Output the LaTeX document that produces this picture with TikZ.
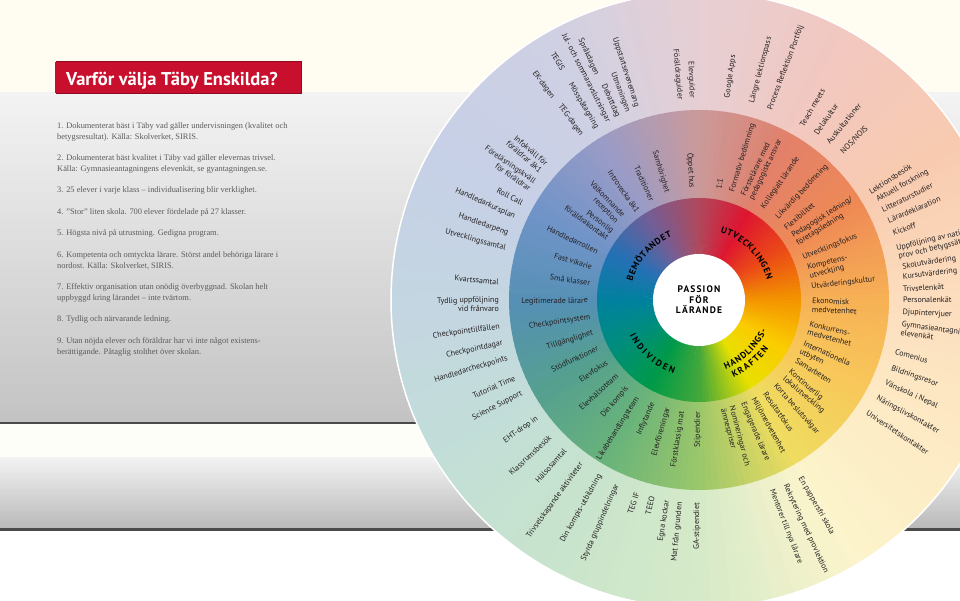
\documentclass[tikz,border=0pt]{standalone}
\usepackage{fontspec}
\setmainfont{Liberation Serif}
\newfontfamily\wheelfont{PT Sans}
\usepackage{tikz}
\usetikzlibrary{decorations.text}

\definecolor{cream}{HTML}{FFFDF2}
\definecolor{bandwhite}{HTML}{FEFEF9}
\definecolor{panel-top}{HTML}{F3F3F3}
\definecolor{panel-bot}{HTML}{C3C3C3}
\definecolor{panel-line}{HTML}{4A4A4A}
\definecolor{teb-red}{HTML}{C8102E}
\definecolor{list-gray}{HTML}{5B5B5B}
\definecolor{wheel-text}{HTML}{231F20}

% inner ring, -180 ... 180 in steps of 30
\definecolor{cin0}{HTML}{00819E}
\definecolor{cin1}{HTML}{008E7A}
\definecolor{cin2}{HTML}{009A48}
\definecolor{cin3}{HTML}{44A83A}
\definecolor{cin4}{HTML}{E8E000}
\definecolor{cin5}{HTML}{FBCC00}
\definecolor{cin6}{HTML}{F39200}
\definecolor{cin7}{HTML}{EB4A17}
\definecolor{cin8}{HTML}{DE1530}
\definecolor{cin9}{HTML}{AE4A5E}
\definecolor{cin10}{HTML}{735E96}
\definecolor{cin11}{HTML}{2670B5}
\definecolor{cin12}{HTML}{00819E}
% middle ring
\definecolor{cmid0}{HTML}{5590B5}
\definecolor{cmid1}{HTML}{55A08E}
\definecolor{cmid2}{HTML}{6AB47A}
\definecolor{cmid3}{HTML}{9CC76A}
\definecolor{cmid4}{HTML}{EFDC60}
\definecolor{cmid5}{HTML}{F8C85A}
\definecolor{cmid6}{HTML}{F6B055}
\definecolor{cmid7}{HTML}{EF8A55}
\definecolor{cmid8}{HTML}{E2806A}
\definecolor{cmid9}{HTML}{C99A9C}
\definecolor{cmid10}{HTML}{9A9BC6}
\definecolor{cmid11}{HTML}{7194C8}
\definecolor{cmid12}{HTML}{5590B5}
% outer ring
\definecolor{cout0}{HTML}{C4D6E2}
\definecolor{cout1}{HTML}{C2DED8}
\definecolor{cout2}{HTML}{C8E4CC}
\definecolor{cout3}{HTML}{D6EAC8}
\definecolor{cout4}{HTML}{FCF4CC}
\definecolor{cout5}{HTML}{FDEAC4}
\definecolor{cout6}{HTML}{FCDDBE}
\definecolor{cout7}{HTML}{F8CBB0}
\definecolor{cout8}{HTML}{F2C8C0}
\definecolor{cout9}{HTML}{E6CFD4}
\definecolor{cout10}{HTML}{CED0E4}
\definecolor{cout11}{HTML}{C6D0E6}
\definecolor{cout12}{HTML}{C4D6E2}

\newcommand\ringfont{\wheelfont\bfseries\fontsize{9}{9}\selectfont}

% conic fill of one ring: colour prefix, inner radius, outer radius
\newcommand\ringfill[3]{%
  \foreach \k in {0,...,11}{%
    \pgfmathtruncatemacro\kn{\k+1}%
    \foreach \i in {0,...,14}{%
      \pgfmathtruncatemacro\p{round(100*\i/15)}%
      \pgfmathsetmacro\a{-180+30*\k+2*\i}%
      \pgfmathsetmacro\b{\a+2.4}%
      \fill[#1\kn!\p!#1\k] (\a:#3) arc[start angle=\a, end angle=\b, radius=#3]
        -- (\b:#2) arc[start angle=\b, end angle=\a, radius=#2] -- cycle;
    }%
  }%
}

% radial labels: name prefix, list of angle/radius/text
\newcommand\spokes[2]{%
  \foreach \ang/\rad/\lbl [count=\n] in {#2}{%
    \pgfmathsetmacro\spkcos{cos(\ang)}%
    \ifdim\spkcos pt>0pt
      \node[spoke-r, rotate=\ang] (#1-\n) at (\ang:\rad) {\lbl};
    \else
      \pgfmathsetmacro\spkflip{\ang+180}%
      \node[spoke-l, rotate=\spkflip] (#1-\n) at (\ang:\rad) {\lbl};
    \fi
  }%
}

\tikzset{
  spoke/.style={font=\wheelfont\fontsize{8}{9}\selectfont, text=wheel-text, inner sep=0pt},
  spoke-r/.style={spoke, anchor=west, align=left},
  spoke-l/.style={spoke, anchor=east, align=right},
  list-line/.style={font=\fontsize{8.4}{10}\selectfont, text=list-gray, inner sep=0pt, anchor=base west},
}

\begin{document}
\begin{tikzpicture}[x=1pt, y=1pt]
  \useasboundingbox (0,0) rectangle (960,600);
  \clip (0,0) rectangle (960,600);

  % background bands
  \fill[cream] (0,0) rectangle (960,600);
  \shade[top color=panel-top, bottom color=panel-bot] (0,178) rectangle (960,507);
  \fill[panel-line] (0,176) rectangle (960,178.5);
  \fill[bandwhite] (0,143) rectangle (960,176);
  \shade[top color=panel-top, bottom color=panel-bot!95!black] (0,72) rectangle (960,143);
  \fill[panel-line] (0,69.5) rectangle (960,72);
  \fill[white] (0,0) rectangle (960,69.5);

  % title
  \fill[teb-red!70!black] (56,506) rectangle (302,539);
  \fill[teb-red] (55,507) rectangle (301,538);
  \node[anchor=base west, text=white, inner sep=0pt,
        font=\wheelfont\bfseries\fontsize{18.5}{20}\selectfont] (title) at (66,514) {Varför välja Täby Enskilda?};

  % numbered list
  \foreach \yy/\ltext [count=\n] in {
    471.5/{1. Dokumenterat bäst i Täby vad gäller undervisningen (kvalitet och},
    460.75/{betygsresultat). Källa: Skolverket, SIRIS.},
    439.25/{2. Dokumenterat bäst kvalitet i Täby vad gäller elevernas trivsel.},
    428.5/{Källa: Gymnasieantagningens elevenkät, se gyantagningen.se.},
    407/{3. 25 elever i varje klass – individualisering blir verklighet.},
    385.5/{4. ”Stor” liten skola. 700 elever fördelade på 27 klasser.},
    364/{5. Högsta nivå på utrustning. Gedigna program.},
    342.5/{6. Kompetenta och omtyckta lärare. Störst andel behöriga lärare i},
    331.75/{nordost. Källa: Skolverket, SIRIS.},
    310.25/{7. Effektiv organisation utan onödig överbyggnad. Skolan helt},
    299.5/{uppbyggd kring lärandet – inte tvärtom.},
    278/{8. Tydlig och närvarande ledning.},
    256.5/{9. Utan nöjda elever och föräldrar har vi inte något existens-},
    245.75/{berättigande. Påtaglig stolthet över skolan.}}
    \node[list-line] (line\n) at (57,\yy) {\ltext};

  % the wheel
  \begin{scope}[shift={(699,300)}]
    \ringfill{cout}{189}{308}
    \ringfill{cmid}{101}{190}
    \ringfill{cin}{45}{102}
    \fill[white] (0,0) circle[radius=46];
    \draw[white, line width=1.5pt] (0,0) circle[radius=308];

    \node[font=\wheelfont\bfseries\fontsize{9.5}{10.5}\selectfont\addfontfeatures{LetterSpace=12},
          align=center, inner sep=0pt] (core) at (0,0) {PASSION\\FÖR\\LÄRANDE};

    % inner ring words
    \path[decorate, decoration={text along path, text align={fit to path},
          text={|\ringfont|BEMÖTANDET}}] (164.5:69) arc[start angle=164.5, end angle=113, radius=69];
    \path[decorate, decoration={text along path, text align={fit to path},
          text={|\ringfont|UTVECKLINGEN}}] (72.5:71) arc[start angle=72.5, end angle=16.5, radius=71];
    \path[decorate, decoration={text along path, text align={fit to path},
          text={|\ringfont|INDIVIDEN}}] (-153:78) arc[start angle=-153, end angle=-109, radius=78];
    \path[decorate, decoration={text along path, text align={fit to path},
          text={|\ringfont|HANDLINGS-}}] (-69:74) arc[start angle=-69, end angle=-24, radius=74];
    \path[decorate, decoration={text along path, text align={fit to path},
          text={|\ringfont|KRAFTEN}}] (-66:85) arc[start angle=-66, end angle=-35, radius=85];

    % middle ring
    \spokes{mid}{
      93.5/112/Öppet hus, 80/112/1:1, 73/113/Formativ bedömning,
      64.6/113/{Förstelärare med\\pedagogiskt ansvar}, 55.2/112/Kollegialt lärande,
      46.4/113/Likvärdig bedömning, 39.9/112/Flexibilitet,
      32/113/{Pedagogisk ledning/\\företagsledning}, 22/112/Utvecklingsfokus,
      14.2/113/{Kompetens-\\utveckling}, 6.6/113/Utvärderingskultur,
      -2.5/113/{Ekonomisk\\medvetenhet}, -14.2/113/{Konkurrens-\\medvetenhet},
      -24.8/113/{Internationella\\utbyten}, -31.7/114/Samarbeten,
      -40.4/115/{Kontinuerlig\\lokalutveckling}, -48.2/114/Korta beslutsvägar,
      -54.6/114/Resultatfokus, -61.1/112/Miljömedvetenhet, -66.9/112/Engagerade lärare,
      -75.3/111/{Nomineringar och\\ämnespriser}, -90.5/112/Stipendier,
      -98.6/113/Förstklassig mat, -106/112/Elevföreningar, -114/113/Inflytande,
      -122.2/115/Likabehandlingsteam, -129.6/113/Din kompis, -137.5/111/Elevhälsoteam,
      -146/111/Elevfokus, -154.6/112/Stödfunktioner, -162.7/111/Tillgänglighet,
      -171.1/110/Checkpointsystem, -179.5/111/Legitimerade lärare,
      171.1/110/Små klasser, 162.9/112/Fast vikarie, 154.6/112/Handledarrollen,
      143.6/110/{Personlig\\föräldrakontakt}, 134.3/113/{Välkomnande\\reception},
      124.7/107/Introvecka åk1, 115.2/110/Traditioner, 106.6/112/Samhörighet}

    % outer ring
    \spokes{out}{
      82/204/Google Apps, 75/204/Längre lektionspass, 69.5/203/Process Reflektion Portfölj,
      59.5/202/Teach meets, 54.9/203/Delakultur, 50.6/203/Auskultationer,
      45.8/205/{NOS/NOJS},
      32.3/202/Lektionsbesök, 29.3/204/Aktuell forskning, 26.2/204/Litteraturstudier,
      22.8/205/Lärardeklaration, 19.1/205/Kickoff,
      13.4/204/{Uppföljning av nationella\\prov och betygssättning},
      9.2/206/Skolutvärdering, 6.4/205/Kursutvärdering, 3.1/204/Trivselenkät,
      0/204/Personalenkät, -3.4/204/Djupintervjuer,
      -7.9/204/{Gymnasieantagningens\\elevenkät},
      -14.8/203/Comenius, -19.5/204/Bildningsresor, -24/204/Vänskola i Nepal,
      -28.8/203/Näringslivskontakter, -33.7/202/Universitetskontakter,
      -60.3/204/En pappersfri skola, -65/204/Rekrytering med provlektion,
      -69/203/Mentorer till nya lärare,
      -90.5/203/GA-stipendiet, -95.4/203/Mat från grunden, -99/203/Egna kockar,
      -103.4/202/TEEO, -107.9/202/TEG IF, -113.9/202/Styrda gruppindelningar,
      -119.5/201/Din kompis-utbildning, -125.7/201/Trivselskapande aktiviteter,
      -131.8/201/Hälsosamtal, -137.4/202/Klassrumsbesök, -143.9/200/EHT-drop in,
      -152.3/200/Science Support, -157/200/Tutorial Time,
      -163.1/200/Handledarcheckpoints, -167.6/201/Checkpointdagar,
      -172.3/201/Checkpointtillfällen, -178.9/200/{Tydlig uppföljning\\vid frånvaro},
      174.9/201/Kvartssamtal, 165/200/Utvecklingssamtal, 160.7/202/Handledarpeng,
      155.7/202/Handledarkursplan, 151.3/201/Roll Call,
      145.4/202/{Föreläsningskväll\\för föräldrar}, 139.5/204/{Infokväll för\\föräldrar åk1},
      125.5/202/TEG-dagen, 125.9/249/EK-dagen, 120.7/200/Mösspåtagning, 120.6/267/TEGIS,
      117/200/Jul- och sommaravslutningar, 113.9/200/Debattdag, 114.4/247/Språkdagen,
      110.7/201/Utmaningen, 107.8/203/Uppstartsevenemang,
      95.4/201/Föräldraguider, 92/202/Elevguider}
  \end{scope}
\end{tikzpicture}
\end{document}
